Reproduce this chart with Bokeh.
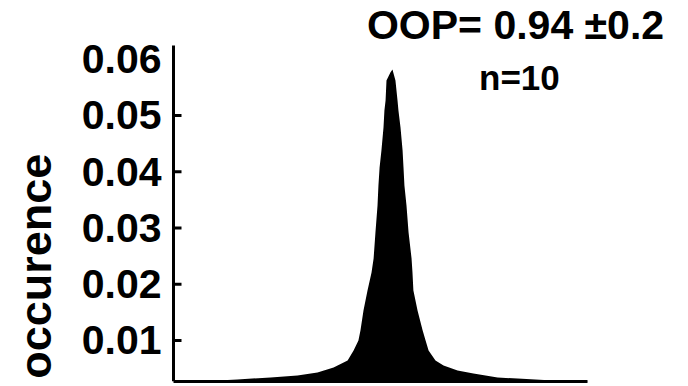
import math
from bokeh.plotting import figure
from bokeh.models import Range1d, FixedTicker, NumeralTickFormatter, Label
from bokeh.embed import file_html
from bokeh.resources import INLINE

# Distribution profile (x: arbitrary angle-like units, y: occurence)
angle = [-90, -75, -62.2, -47.8, -36.1, -27.4, -20.4, -14.3, -11.7, -9.6, -8.7, -7.4,
         -5.65, -3.9, -3.0, -2.2, -1.3, -0.9, -0.4, 0.4, 1.3, 1.7, 2.2, 2.6, 4.3, 5.2,
         6.5, 7.4, 7.8, 8.7, 9.6, 10.0, 10.4, 11.3, 12.2, 13.5, 13.9, 14.3, 16.1, 18.3,
         19.6, 20.9, 23.9, 27.4, 33.5, 40.4, 50.9, 59.6, 75, 90]
occurence = [0.0026, 0.0028, 0.00307, 0.00342, 0.00378, 0.00431, 0.0052, 0.00644, 0.00822,
             0.0100, 0.0118, 0.01533, 0.01889, 0.02209, 0.02458, 0.0292, 0.0340, 0.03756,
             0.04076, 0.04378, 0.04787, 0.05089, 0.05267, 0.05622, 0.05764, 0.05818,
             0.05622, 0.05267, 0.05089, 0.04787, 0.04378, 0.04076, 0.03756, 0.0340, 0.0292,
             0.02458, 0.02209, 0.01889, 0.01533, 0.0118, 0.0100, 0.00822, 0.00644, 0.00556,
             0.00467, 0.00413, 0.00342, 0.00324, 0.0029, 0.0027]

y_ticks = [0.01, 0.02, 0.03, 0.04, 0.05, 0.06]
y_axis_bounds = (0.00271, 0.0624)
x_axis_bounds = (-90, 90)
title_line1 = "OOP= 0.94 \u00b10.2"
title_line2 = "n=10"
y_label = "occurence"

FONT = "Liberation Sans"

p = figure(width=688, height=386, output_backend="svg", toolbar_location=None,
           x_range=Range1d(-165.22, 133.91), y_range=Range1d(0.00271, 0.07044),
           min_border_left=0, min_border_right=0, min_border_top=0,
           min_border_bottom=5)
p.outline_line_color = None
p.grid.visible = False
p.background_fill_color = "white"
p.border_fill_color = "white"

p.varea(x=angle, y1=0, y2=occurence, fill_color="black")

# inward tick marks (MATLAB style)
p.ray(x=x_axis_bounds[0], y=y_ticks[:-1], length=8, length_units="screen", angle=0,
      line_color="black", line_width=3)

ya = p.yaxis[0]
ya.fixed_location = x_axis_bounds[0]
ya.ticker = FixedTicker(ticks=y_ticks)
ya.bounds = y_axis_bounds
ya.formatter = NumeralTickFormatter(format="0.00")
ya.axis_line_width = 3
ya.axis_line_color = "black"
ya.major_tick_line_color = None
ya.major_tick_in = 0
ya.major_tick_out = 0
ya.minor_tick_line_color = None
ya.major_label_text_font = FONT
ya.major_label_text_font_style = "bold"
ya.major_label_text_font_size = "41px"
ya.major_label_text_color = "black"
ya.major_label_standoff = 12

xa = p.xaxis[0]
xa.ticker = FixedTicker(ticks=[])
xa.bounds = x_axis_bounds
xa.axis_line_width = 3
xa.axis_line_color = "black"
xa.major_tick_line_color = None
xa.minor_tick_line_color = None
xa.major_label_text_font_size = "0px"
xa.major_label_standoff = 0

p.add_layout(Label(x=-149.8, y=0.0432, text=y_label, angle=math.pi / 2,
                   text_align="right", text_baseline="alphabetic", text_font=FONT,
                   text_font_style="bold", text_font_size="45px", text_color="black"))
p.add_layout(Label(x=58.7, y=0.06609, text=title_line1, text_align="center",
                   text_baseline="alphabetic", text_font=FONT, text_font_style="bold",
                   text_font_size="41px", text_color="black"))
p.add_layout(Label(x=60.4, y=0.05667, text=title_line2, text_align="center",
                   text_baseline="alphabetic", text_font=FONT, text_font_style="bold",
                   text_font_size="35px", text_color="black"))

open("out.html", "w").write(file_html(p, INLINE))
